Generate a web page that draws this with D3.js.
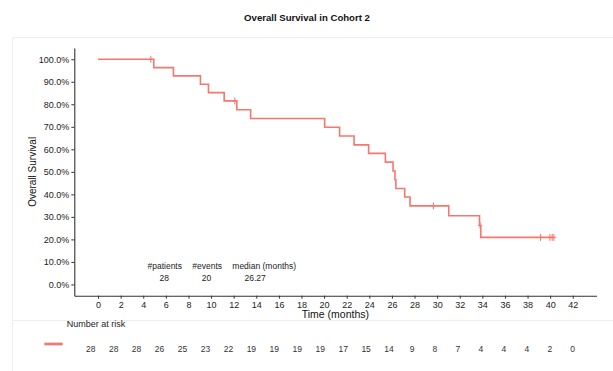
<!DOCTYPE html>
<html>
<head>
<meta charset="utf-8">
<script src="https://cdn.jsdelivr.net/npm/d3@7"></script>
<style>
  body { margin: 0; background: #ffffff; }
  svg text { font-family: "Liberation Sans", Arial, sans-serif; }
</style>
</head>
<body>
<div id="graph"></div>
<script>
// Kaplan-Meier curve (months, survival fraction)
var stepTimes = [0, 4.93, 6.67, 9.06, 9.77, 11.16, 12.28, 13.5, 20.05, 21.37, 22.65, 23.94, 25.42, 26.1, 26.27, 26.35, 27.13, 27.6, 31.03, 33.75, 33.86];
var survival  = [1, 0.963, 0.926, 0.889, 0.852, 0.815, 0.776, 0.737, 0.698, 0.659, 0.620, 0.582, 0.543, 0.504, 0.465, 0.426, 0.388, 0.349, 0.305, 0.262, 0.209];
var lastTime = 40.33;
var censorTimes = [4.67, 12.1, 29.67, 33.8, 39.15, 39.98, 40.18, 40.33];

var xTicks = [0, 2, 4, 6, 8, 10, 12, 14, 16, 18, 20, 22, 24, 26, 28, 30, 32, 34, 36, 38, 40, 42];
var yTicks = [0, 0.1, 0.2, 0.3, 0.4, 0.5, 0.6, 0.7, 0.8, 0.9, 1.0];
var riskCounts = [28, 28, 28, 26, 25, 23, 22, 19, 19, 19, 19, 17, 15, 14, 9, 8, 7, 4, 4, 4, 2, 0];

var summaryLabels = ["#patients", "#events", "median (months)"];
var summaryValues = ["28", "20", "26.27"];

var CURVE_COLOR = "#F8766D";
var AXIS_COLOR = "#333333";

var width = 613, height = 371;

var svg = d3.select("#graph")
  .append("svg")
    .attr("width", width)
    .attr("height", height);

// faint panel frame + separator above the risk table
svg.append("path")
  .attr("d", "M613,37.5 H12.5 V371 M12.5,320.5 H613")
  .attr("fill", "none")
  .attr("stroke", "#eeeeee")
  .attr("stroke-width", 1);

// scales
var xscale = d3.scaleLinear().domain([-2.1, 44.1]).range([74.3, 596.5]);
var yscale = d3.scaleLinear().domain([-0.05, 1.05]).range([295.7, 48]);

// axes
var x_axis = d3.axisBottom(xscale)
  .tickValues(xTicks)
  .tickSize(3)
  .tickSizeOuter(0)
  .tickPadding(2.5);

var y_axis = d3.axisLeft(yscale)
  .tickValues(yTicks)
  .tickFormat(d3.format(".1%"))
  .tickSize(3)
  .tickSizeOuter(0)
  .tickPadding(2);

var xAxisG = svg.append("g")
  .attr("transform", "translate(0," + yscale.range()[0] + ")")
  .call(x_axis);

var yAxisG = svg.append("g")
  .attr("transform", "translate(" + xscale.range()[0] + ",0)")
  .call(y_axis);

[xAxisG, yAxisG].forEach(function(g) {
  g.select(".domain").attr("stroke", AXIS_COLOR).attr("stroke-width", 1.1);
  g.selectAll(".tick line").attr("stroke", AXIS_COLOR);
  g.selectAll(".tick text")
    .attr("fill", "#222222")
    .style("font-size", "9px");
});

// titles
svg.append("text")
  .attr("x", 307)
  .attr("y", 20.5)
  .attr("text-anchor", "middle")
  .attr("fill", "#111111")
  .style("font-size", "9.6px")
  .style("font-weight", "bold")
  .text("Overall Survival in Cohort 2");

svg.append("text")
  .attr("x", (xscale.range()[0] + xscale.range()[1]) / 2)
  .attr("y", 318.3)
  .attr("text-anchor", "middle")
  .attr("fill", "#111111")
  .style("font-size", "10.5px")
  .text("Time (months)");

svg.append("text")
  .attr("transform", "translate(35.5," + ((yscale.range()[0] + yscale.range()[1]) / 2) + ") rotate(-90)")
  .attr("text-anchor", "middle")
  .attr("fill", "#111111")
  .style("font-size", "10px")
  .text("Overall Survival");

// survival curve
var curvePoints = stepTimes.map(function(t, i) { return [t, survival[i]]; });
curvePoints.push([lastTime, survival[survival.length - 1]]);

var line = d3.line()
  .x(function(d) { return xscale(d[0]); })
  .y(function(d) { return yscale(d[1]); })
  .curve(d3.curveStepAfter);

svg.append("path")
  .datum(curvePoints)
  .attr("d", line)
  .attr("fill", "none")
  .attr("stroke", CURVE_COLOR)
  .attr("stroke-width", 1.6);

// censor marks
var bisect = d3.bisector(function(t) { return t; }).right;
svg.selectAll(".censor")
  .data(censorTimes)
  .enter()
  .append("path")
    .attr("class", "censor")
    .attr("d", function(t) {
      var s = survival[bisect(stepTimes, t) - 1];
      var cx = xscale(t), cy = yscale(s);
      return "M" + cx + "," + (cy - 3.5) + "V" + (cy + 3.5) + "M" + (cx - 2) + "," + cy + "H" + (cx + 2);
    })
    .attr("stroke", CURVE_COLOR)
    .attr("stroke-width", 1);

// summary block inside the plot
var summaryX = [5.9, 9.65, 14.7];
var summaryValueX = [5.85, 9.6, 13.9];
summaryLabels.forEach(function(lbl, i) {
  svg.append("text")
    .attr("x", xscale(summaryX[i]))
    .attr("y", 268.8)
    .attr("text-anchor", "middle")
    .attr("fill", "#222222")
    .style("font-size", "8.5px")
    .text(lbl);
  svg.append("text")
    .attr("x", xscale(summaryValueX[i]))
    .attr("y", 281.4)
    .attr("text-anchor", "middle")
    .attr("fill", "#222222")
    .style("font-size", "8.5px")
    .text(summaryValues[i]);
});

// number at risk table
var riskScale = d3.scaleLinear().domain([0, 42]).range([90.7, 572.7]);

svg.append("text")
  .attr("x", 66.7)
  .attr("y", 326.6)
  .attr("fill", "#222222")
  .style("font-size", "9px")
  .text("Number at risk");

svg.append("line")
  .attr("x1", 44.3).attr("x2", 62.7)
  .attr("y1", 344).attr("y2", 344)
  .attr("stroke", CURVE_COLOR)
  .attr("stroke-width", 2.7);

svg.selectAll(".risk")
  .data(riskCounts)
  .enter()
  .append("text")
    .attr("class", "risk")
    .attr("x", function(d, i) { return riskScale(xTicks[i]); })
    .attr("y", 352.4)
    .attr("text-anchor", "middle")
    .attr("fill", "#333333")
    .style("font-size", "8.5px")
    .text(function(d) { return d; });
</script>
</body>
</html>
